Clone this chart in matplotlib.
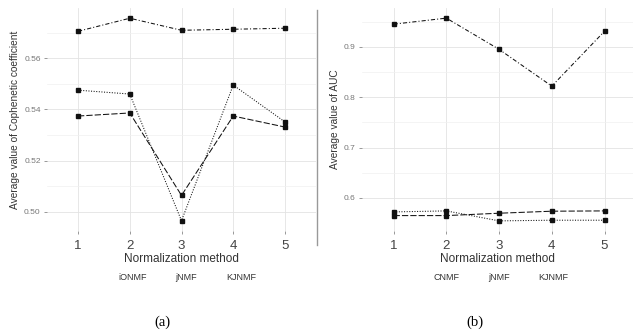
import matplotlib
matplotlib.use("Agg")
import matplotlib.pyplot as plt
from matplotlib.lines import Line2D

plt.rcParams['font.family'] = ['Liberation Sans', 'DejaVu Sans']

methods = [1, 2, 3, 4, 5]

# Panel (a): cophenetic coefficient
coph_labels = ["iONMF", "jNMF", "KJNMF"]
coph_top = [0.5705, 0.5756, 0.5709, 0.5713, 0.5717]
coph_dotted = [0.5475, 0.5460, 0.4965, 0.5495, 0.5351]
coph_dashed = [0.5374, 0.5386, 0.5064, 0.5374, 0.5331]
coph_yticks = [0.50, 0.52, 0.54, 0.56]

# Panel (b): AUC
auc_labels = ["CNMF", "jNMF", "KJNMF"]
auc_top = [0.945, 0.957, 0.895, 0.822, 0.931]
auc_dotted = [0.5723, 0.5743, 0.5545, 0.5558, 0.5558]
auc_dashed = [0.5650, 0.5650, 0.5697, 0.5737, 0.5743]
auc_yticks = [0.6, 0.7, 0.8, 0.9]

styles = [(0, (4, 2, 1, 2)), (0, (1, 1.5)), (0, (6, 2))]

fig = plt.figure(figsize=(6.33, 3.35), dpi=100)

axA = fig.add_axes([47/633, 1-231/335, (316-47)/633, (231-8)/335])
axB = fig.add_axes([362/633, 1-231/335, (633-362)/633, (231-8)/335])

def style_ax(ax, yticks, minor, ylabel, xlim):
    ax.set_facecolor('white')
    for s in ax.spines.values():
        s.set_visible(False)
    ax.set_xticks(methods)
    ax.set_xticklabels([str(m) for m in methods], fontsize=9.5, color='#444444')
    ax.set_yticks(yticks)
    ax.set_yticks(minor, minor=True)
    ax.set_yticklabels([f"{v:.2f}" if yticks[0] < 0.55 else f"{v:.1f}" for v in yticks],
                       fontsize=6, color='#777777')
    ax.tick_params(axis='y', which='minor', length=0)
    ax.tick_params(axis='both', which='major', length=2.5, color='#888888', width=0.6, pad=2)
    ax.tick_params(axis='x', pad=4)
    ax.grid(True, which='major', color='#e3e3e3', linewidth=0.6)
    ax.grid(True, which='minor', axis='y', color='#f0f0f0', linewidth=0.5)
    ax.set_axisbelow(True)
    ax.set_xlim(*xlim)
    ax.set_xlabel("Normalization method", fontsize=8.5, color='#333333', labelpad=1)
    ax.set_ylabel(ylabel, fontsize=7.3, color='#333333', labelpad=3)

seriesA = [coph_top, coph_dotted, coph_dashed]
for vals, ls in zip(seriesA, styles):
    axA.plot(methods, vals, color='#111111', linestyle=ls, linewidth=0.75,
             marker='s', markersize=2.2)
axA.set_ylim(0.4925, 0.5796)
style_ax(axA, coph_yticks, [0.51, 0.53, 0.55, 0.57],
         "Average value of Cophenetic coefficient", (0.4, 5.6))

seriesB = [auc_top, auc_dotted, auc_dashed]
for vals, ls in zip(seriesB, styles):
    axB.plot(methods, vals, color='#111111', linestyle=ls, linewidth=0.75,
             marker='s', markersize=2.2)
axB.set_ylim(0.5344, 0.9771)
style_ax(axB, auc_yticks, [0.65, 0.75, 0.85, 0.95],
         "Average value of AUC", (0.4, 5.54))

def add_legend(ax, labels, x):
    handles = [Line2D([], [], color='black', linestyle=ls, alpha=0.0) for ls in styles]
    fig.legend(handles, labels, loc='center', bbox_to_anchor=(x, 1-278/335),
               ncol=3, frameon=False, fontsize=6.5, handlelength=1.6,
               columnspacing=1.2, handletextpad=0.4, labelcolor='#333333')

add_legend(axA, coph_labels, 178/633)
add_legend(axB, auc_labels, 492/633)

fig.add_artist(Line2D([317/633, 317/633], [1-245/335, 1-10/335],
                      transform=fig.transFigure, color='#999999', linewidth=1.0))

fig.text(162/633, 1-322/335, "(a)", fontsize=10.5, ha='center', va='center',
         family=['Liberation Serif', 'DejaVu Serif'])
fig.text(475/633, 1-322/335, "(b)", fontsize=10.5, ha='center', va='center',
         family=['Liberation Serif', 'DejaVu Serif'])

fig.savefig("out.png", dpi=100, facecolor='white')
